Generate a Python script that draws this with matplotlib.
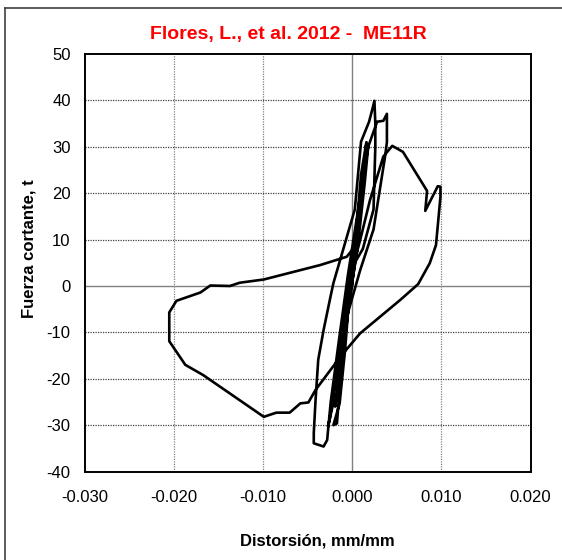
import matplotlib
matplotlib.use("Agg")
import matplotlib.pyplot as plt
from matplotlib.lines import Line2D

plt.rcParams['font.family'] = ['Liberation Sans', 'DejaVu Sans']
plt.rcParams['axes.unicode_minus'] = False

# distorsion (mm/mm) and fuerza cortante (t)
distorsion = [
    0.0000, 0.0003, 0.0008, 0.0004, 0.0000,
    -0.0006, -0.0012, -0.0008, -0.0002,
    0.0006, 0.0010, 0.0016, 0.0012, 0.0004,
    -0.0008, -0.0014, -0.0017, -0.0021, -0.0014, -0.0008, -0.0001,
    0.0005, 0.0013, 0.0018, 0.0014, 0.0006,
    -0.0004, -0.0012, -0.0019, -0.0016, -0.0008, 0.0000,
    0.0012, 0.0024, 0.0026, 0.0026, 0.0025, 0.0022, 0.0019, 0.0010, 0.0003, -0.0021,
    -0.0025, -0.0032, -0.0038, -0.0041, -0.0043, -0.0043, -0.0032, -0.0028, -0.0024, -0.0015, -0.0005,
    0.0008, 0.0018, 0.0028, 0.0035, 0.0039, 0.0039, 0.0037, 0.0024, 0.0009, -0.0005,
    -0.0020, -0.0025, -0.0027, -0.0022, -0.0012, -0.0006,
    0.0009, 0.0020, 0.0035, 0.0045, 0.0057, 0.0084, 0.0082, 0.0096, 0.0099, 0.0099,
    0.0094, 0.0087, 0.0074, 0.0054, 0.0009, -0.0013, -0.0041, -0.0049, -0.0058, -0.0070,
    -0.0085, -0.0099, -0.0167, -0.0187, -0.0205, -0.0205, -0.0197, -0.0170, -0.0159, -0.0137,
    -0.0126, -0.0099, -0.0036, -0.0006, 0.0005,
]
cortante = [
    0.0, 8.0, 18.0, 8.0, 2.0,
    -8.0, -18.0, -10.0, 2.0,
    15.0, 24.0, 31.0, 22.0, 6.0,
    -10.0, -22.0, -29.6, -30.0, -25.3, -14.0, 3.0,
    12.0, 25.0, 30.0, 22.0, 8.0,
    -4.0, -16.0, -26.0, -22.0, -8.0, 4.0,
    8.0, 16.5, 30.0, 35.0, 39.9, 37.6, 35.4, 31.1, 16.5, 0.6,
    -3.0, -9.5, -15.9, -24.6, -31.7, -33.9, -34.6, -33.2, -25.0, -12.0, 2.0,
    18.0, 30.0, 35.4, 35.6, 37.1, 31.0, 28.0, 12.2, 3.4, -6.0,
    -22.0, -28.5, -30.3, -26.0, -10.0, -1.0,
    9.9, 18.5, 27.9, 30.2, 28.9, 20.5, 16.2, 21.5, 21.4, 19.2,
    8.8, 4.9, 0.4, -3.0, -10.2, -15.2, -22.4, -25.1, -25.3, -27.3,
    -27.3, -28.2, -19.2, -17.0, -11.9, -5.7, -3.2, -1.4, 0.1, 0.0,
    0.7, 1.4, 4.5, 6.3, 9.0,
]

x_ticks = [-0.03, -0.02, -0.01, 0.0, 0.01, 0.02]
y_ticks = [-40, -30, -20, -10, 0, 10, 20, 30, 40, 50]

fig = plt.figure(figsize=(5.62, 5.60), dpi=100)
ax = fig.add_axes([0.1504, 0.1579, 0.7936, 0.7457])

# excel style grid: dotted, with solid zero lines
for v in x_ticks[1:-1]:
    if v == 0:
        ax.axvline(v, color='#808080', lw=1.0, zorder=1)
    else:
        ax.axvline(v, color='#808080', lw=0.9, ls=(0, (1, 1)), zorder=1)
for v in y_ticks[1:-1]:
    if v == 0:
        ax.axhline(v, color='#808080', lw=1.0, zorder=1)
    else:
        ax.axhline(v, color='#404040', lw=0.9, ls=(0, (1, 1)), zorder=1)

ax.plot(distorsion, cortante, color='black', lw=1.9, solid_joinstyle='round', zorder=3)

ax.set_xlim(-0.03, 0.02)
ax.set_ylim(-40, 50)
ax.set_xticks(x_ticks)
ax.set_xticklabels(['%.3f' % v for v in x_ticks])
ax.set_yticks(y_ticks)
ax.tick_params(length=0, labelsize=12)
ax.tick_params(axis='x', pad=13)
ax.tick_params(axis='y', pad=10)
for s in ax.spines.values():
    s.set_color('black')
    s.set_linewidth(1.4)

ax.set_xlabel('Distorsión, mm/mm', fontsize=12, fontweight='bold')
ax.set_ylabel('Fuerza cortante, t', fontsize=12, fontweight='bold')
ax.xaxis.set_label_coords(0.523, -0.149)
ax.yaxis.set_label_coords(-0.107, 0.534)

fig.text(288.8 / 562, 1 - 34 / 560, 'Flores, L., et al. 2012 -  ME11R',
         color='#ff0000', fontsize=14, fontweight='bold', ha='center', va='center')

# chart area border (only top and left are inside the image)
fig.add_artist(Line2D([5 / 562, 5 / 562], [0, 1 - 8 / 560], transform=fig.transFigure,
                      color='#404040', lw=1.2))
fig.add_artist(Line2D([5 / 562, 1], [1 - 8 / 560, 1 - 8 / 560], transform=fig.transFigure,
                      color='#404040', lw=1.2))

fig.savefig('out.png', dpi=100)
